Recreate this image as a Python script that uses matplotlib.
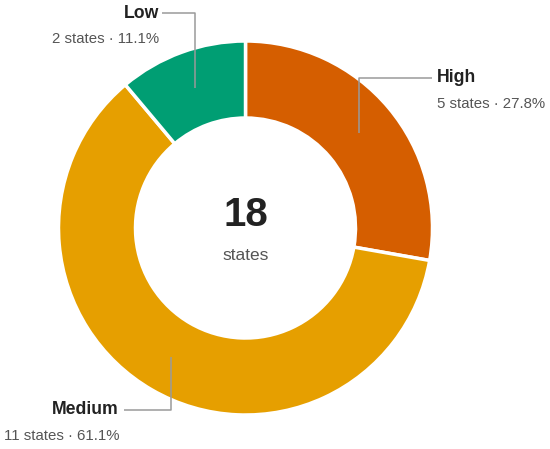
import numpy as np
import matplotlib
matplotlib.use("Agg")
import matplotlib.pyplot as plt

plt.rcParams['font.family'] = ['Liberation Sans', 'DejaVu Sans']

categories = ["High", "Medium", "Low"]
counts = [5, 11, 2]
colors = ["#D55E00", "#E69F00", "#009E73"]
total = sum(counts)

W, H = 550, 449
fig = plt.figure(figsize=(W / 100, H / 100), dpi=100)
ax = fig.add_axes([0, 0, 1, 1])

cx, cy = 245.5, H - 228
R = 187
width = 77
wedges, _ = ax.pie(counts, colors=colors, startangle=90, counterclock=False,
                   radius=R, center=(cx, cy),
                   wedgeprops=dict(width=width, edgecolor="white", linewidth=2.5),
                   frame=True)
ax.set_xlim(0, W)
ax.set_ylim(0, H)
ax.set_aspect("equal")
ax.axis("off")

# label layout: (elbow y top-coord, line end x, text x, ha)
layout = {
    "High": (78, 432, 437, "left"),
    "Medium": (410, 124, 119, "right"),
    "Low": (13, 162, 159, "right"),
}
rmid = R - width / 2
for w, name, n in zip(wedges, categories, counts):
    ang = np.deg2rad((w.theta1 + w.theta2) / 2)
    ax_x = cx + rmid * np.cos(ang)
    ax_y = cy + rmid * np.sin(ang)
    ey, lx, tx, ha = layout[name]
    ey = H - ey
    ax.plot([ax_x, ax_x, lx], [ax_y, ey, ey], color="#9a9a9a", lw=1.1,
            solid_capstyle="butt")
    ax.text(tx, ey, name, ha=ha, va="center", fontsize=12.7,
            fontweight="bold", color="#222222")
    pct = 100 * n / total
    ax.text(tx, ey - 26, f"{n} states · {pct:.1f}%", ha=ha, va="center",
            fontsize=10.8, color="#555555")

ax.text(cx, H - 215, str(total), ha="center", va="center", fontsize=29,
        fontweight="bold", color="#222222")
ax.text(cx, H - 255, "states", ha="center", va="center", fontsize=12.5,
        color="#555555")

fig.savefig("out.png", dpi=100)
